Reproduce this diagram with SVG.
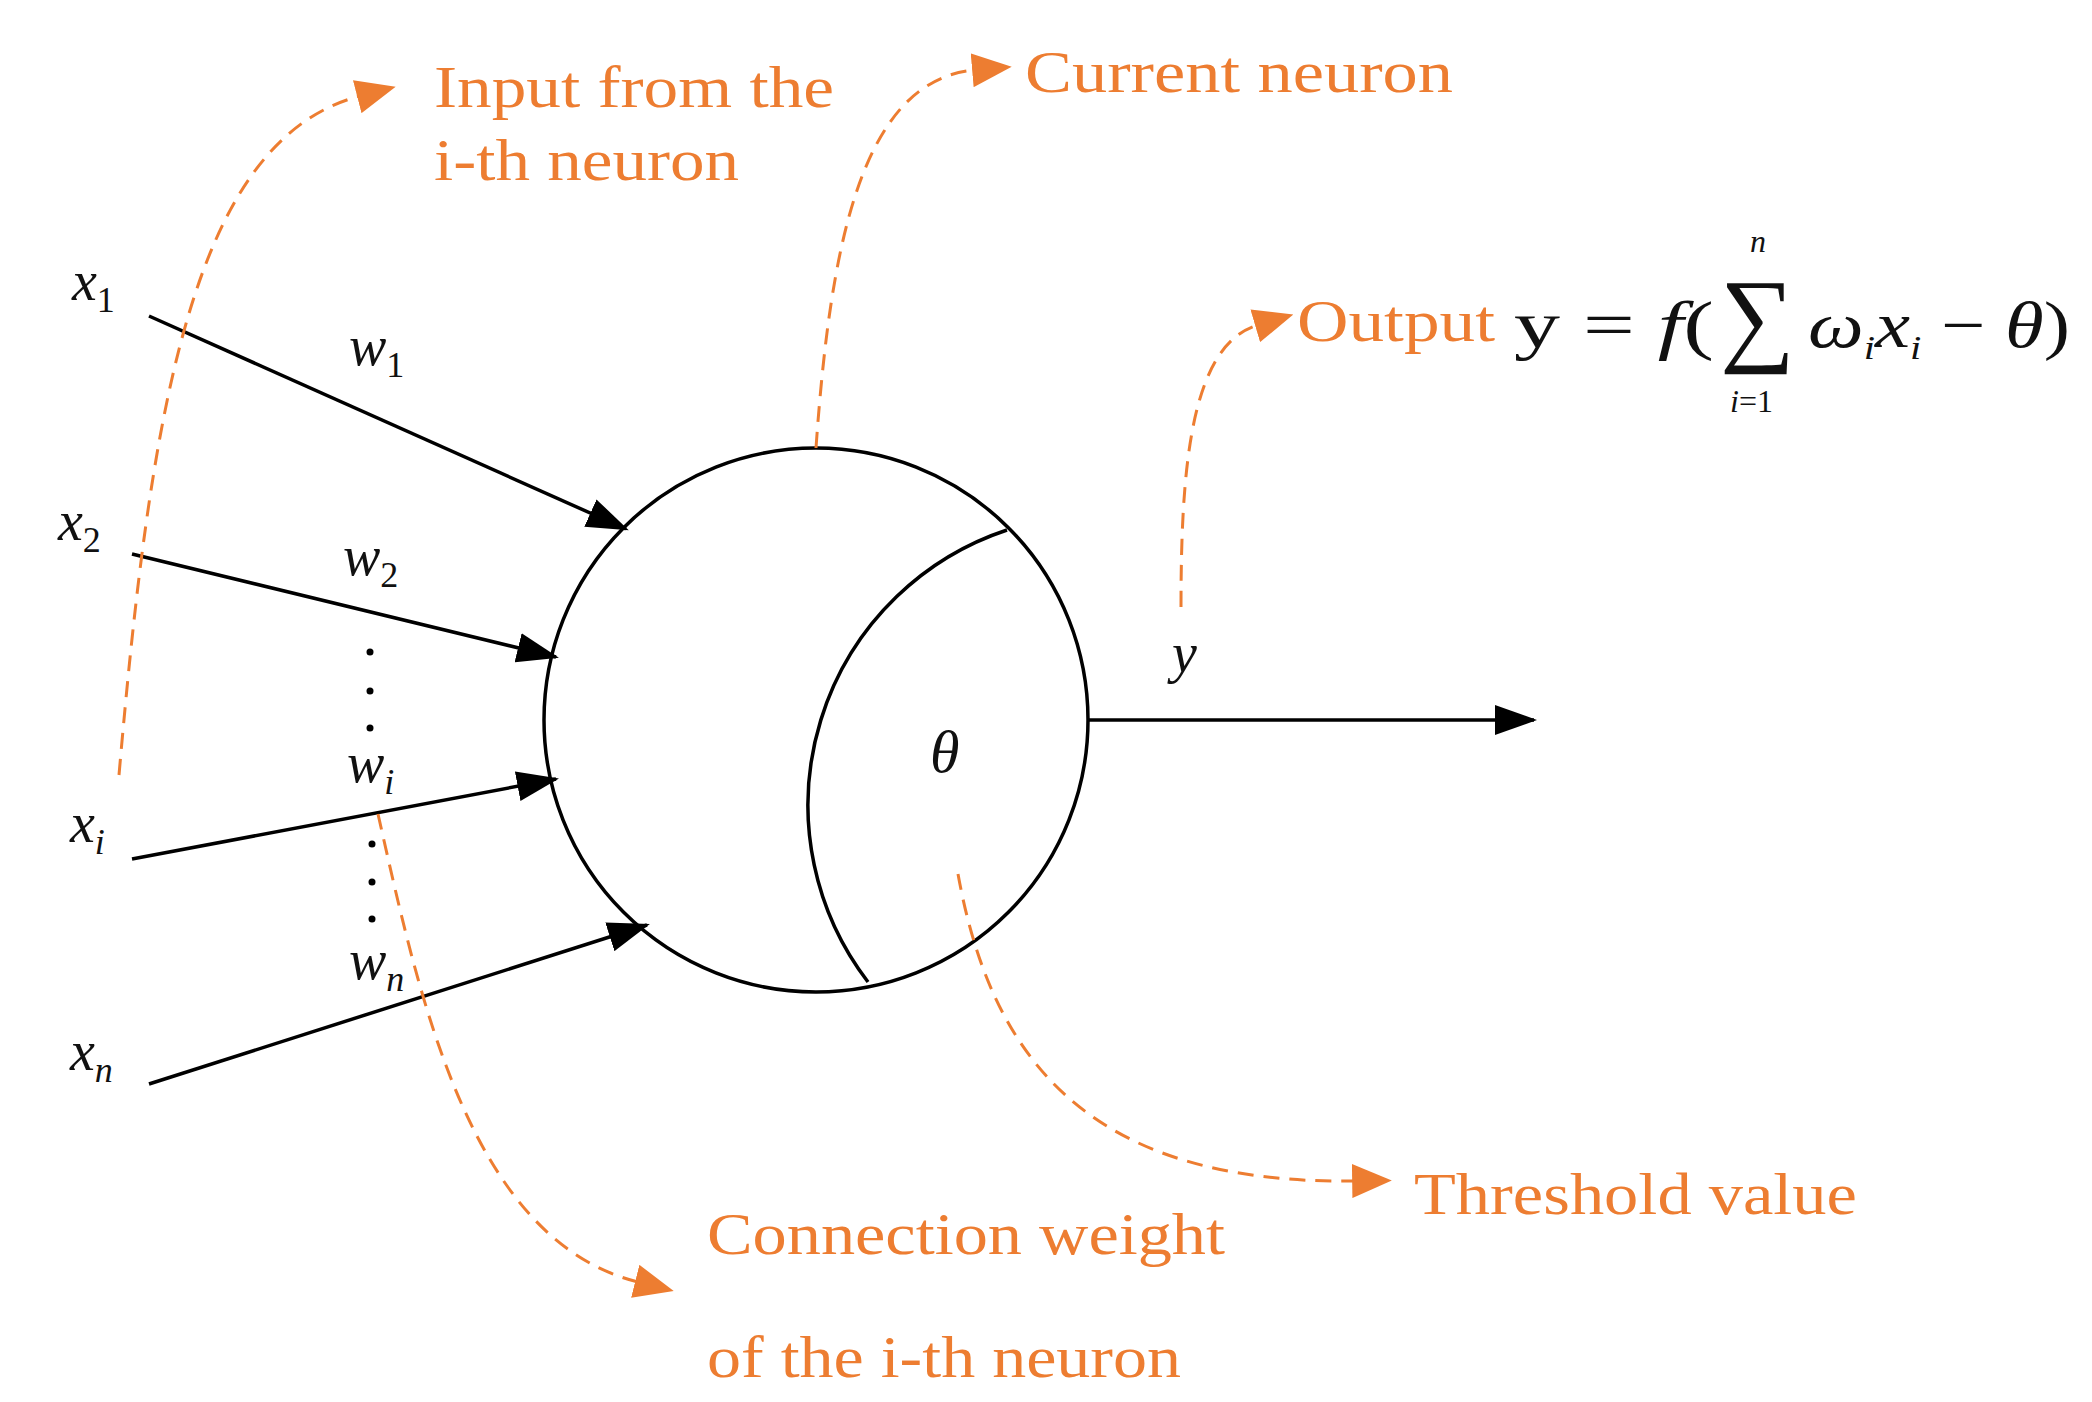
<svg xmlns="http://www.w3.org/2000/svg" width="2092" height="1402" viewBox="0 0 2092 1402">
<style>
.o{fill:#ED7D31;font-family:"Liberation Serif","Times New Roman","DejaVu Serif",serif;font-size:60px}
.m{font-family:"Liberation Serif","Times New Roman","DejaVu Serif",serif;font-style:italic;fill:#111}
.b{stroke:#000;stroke-width:3.5;fill:none}
.d{stroke:#ED7D31;stroke-width:3;fill:none;stroke-dasharray:16 10}
</style>
<defs>
<marker id="ab" viewBox="0 0 14 10" refX="13" refY="5" markerWidth="42" markerHeight="30" orient="auto" markerUnits="userSpaceOnUse"><path d="M0,0L14,5L0,10Z" fill="#000"/></marker>
<marker id="ao" viewBox="0 0 14 12" refX="1" refY="6" markerWidth="40" markerHeight="34" orient="auto" markerUnits="userSpaceOnUse"><path d="M0,0L14,6L0,12Z" fill="#ED7D31"/></marker>
</defs>
<g id="neuron">
<circle cx="816" cy="720" r="272" class="b"/>
<path d="M1007,530 A290,290 0 0 0 868,982" class="b"/>
<text x="930" y="772" class="m" font-size="60">θ</text>
</g>
<g id="inputs" class="m">
<text x="72" y="300" font-size="56">x<tspan font-size="36" font-style="normal" dy="12">1</tspan></text>
<text x="58" y="540" font-size="56">x<tspan font-size="36" font-style="normal" dy="12">2</tspan></text>
<text x="70" y="842" font-size="56">x<tspan font-size="36" dy="12">i</tspan></text>
<text x="70" y="1070" font-size="56">x<tspan font-size="36" dy="12">n</tspan></text>
<text x="349" y="365" font-size="56">w<tspan font-size="36" font-style="normal" dy="12">1</tspan></text>
<text x="343" y="575" font-size="56">w<tspan font-size="36" font-style="normal" dy="12">2</tspan></text>
<text x="347" y="782" font-size="56">w<tspan font-size="36" dy="12">i</tspan></text>
<text x="349" y="979" font-size="56">w<tspan font-size="36" dy="12">n</tspan></text>
<text x="1172" y="672" font-size="56">y</text>
</g>
<g id="dots" fill="#000">
<circle cx="370" cy="652" r="3.5"/><circle cx="370" cy="691" r="3.5"/><circle cx="370" cy="728" r="3.5"/>
<circle cx="372" cy="844" r="3.5"/><circle cx="372" cy="882" r="3.5"/><circle cx="372" cy="919" r="3.5"/>
</g>
<g id="connectors">
<line x1="149" y1="316" x2="626" y2="529" class="b" marker-end="url(#ab)"/>
<line x1="132" y1="554" x2="556" y2="657" class="b" marker-end="url(#ab)"/>
<line x1="132" y1="859" x2="556" y2="779" class="b" marker-end="url(#ab)"/>
<line x1="149" y1="1084" x2="647" y2="925" class="b" marker-end="url(#ab)"/>
<line x1="1088" y1="720" x2="1534" y2="720" class="b" marker-end="url(#ab)"/>
<path d="M119,775 C150,420 190,140 360,96" class="d" marker-end="url(#ao)"/>
<path d="M816,448 C830,250 860,80 975,70" class="d" marker-end="url(#ao)"/>
<path d="M1181,607 C1181,470 1190,345 1258,325" class="d" marker-end="url(#ao)"/>
<path d="M958,874 C990,1050 1080,1185 1355,1181" class="d" marker-end="url(#ao)"/>
<path d="M378,814 C420,1000 470,1240 638,1282" class="d" marker-end="url(#ao)"/>
</g>
<g id="labels">
<text x="434" y="107" class="o" textLength="400" lengthAdjust="spacingAndGlyphs">Input from the</text>
<text x="434" y="180" class="o" textLength="305" lengthAdjust="spacingAndGlyphs">i-th neuron</text>
<text x="1025" y="92" class="o" textLength="428" lengthAdjust="spacingAndGlyphs">Current neuron</text>
<text x="1297" y="341" class="o" textLength="198" lengthAdjust="spacingAndGlyphs">Output</text>
<text x="1414" y="1214" class="o" textLength="443" lengthAdjust="spacingAndGlyphs">Threshold value</text>
<text x="707" y="1254" class="o" textLength="518" lengthAdjust="spacingAndGlyphs">Connection weight</text>
<text x="707" y="1377" class="o" textLength="474" lengthAdjust="spacingAndGlyphs">of the i-th neuron</text>
</g>
<g id="formula" font-family="'Liberation Serif','Times New Roman','DejaVu Serif',serif" fill="#111">
<text x="1514" y="347" font-size="66" textLength="200" lengthAdjust="spacingAndGlyphs">y = <tspan font-style="italic">f</tspan>(</text>
<text x="1720" y="352" font-size="105">∑</text>
<text x="1750" y="252" font-size="32" font-style="italic">n</text>
<text x="1730" y="412" font-size="32"><tspan font-style="italic">i</tspan>=1</text>
<text x="1808" y="347" font-size="66" font-style="italic" textLength="262" lengthAdjust="spacingAndGlyphs">ω<tspan font-size="34" dy="12">i</tspan><tspan dy="-12">x</tspan><tspan font-size="34" dy="12">i</tspan><tspan dy="-12" font-style="normal"> − </tspan>θ<tspan font-style="normal">)</tspan></text>
</g>
</svg>
